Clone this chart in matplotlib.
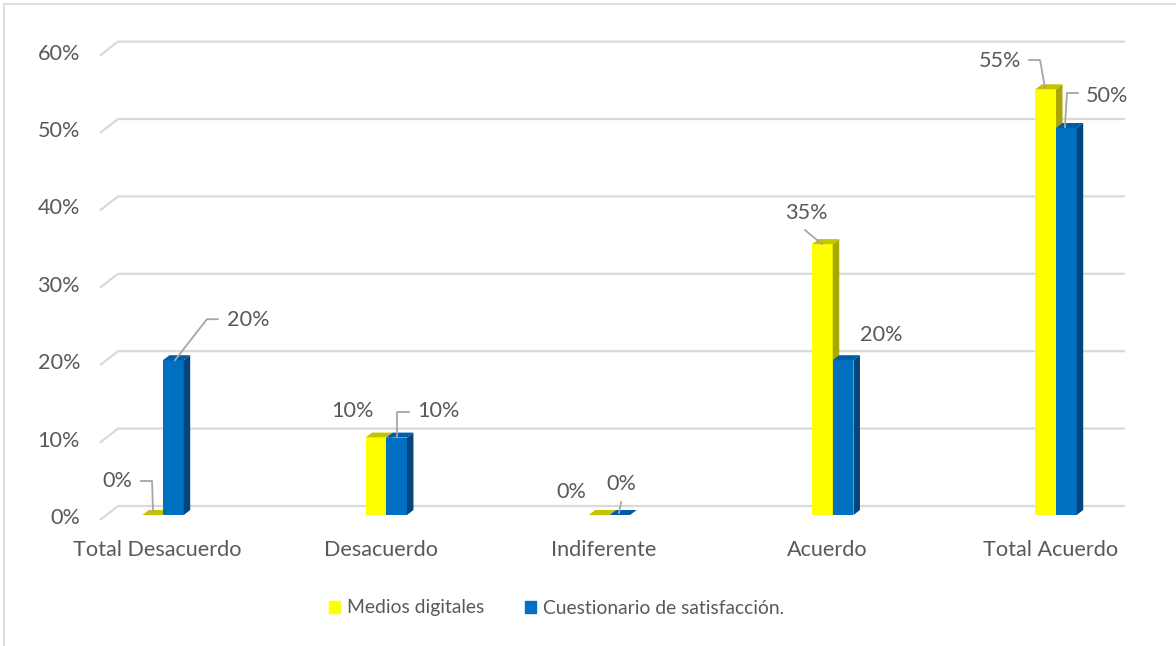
import numpy as np
import matplotlib
matplotlib.use("Agg")
import matplotlib.pyplot as plt
from matplotlib.patches import Polygon
from matplotlib.lines import Line2D

plt.rcParams['font.family'] = ['Lato', 'DejaVu Sans']

# data
categorias = ["Total Desacuerdo", "Desacuerdo", "Indiferente", "Acuerdo", "Total Acuerdo"]
medios_digitales = [0, 10, 0, 35, 55]
cuestionario = [20, 10, 0, 20, 50]
series_names = ["Medios digitales", "Cuestionario de satisfacción."]
ticks = [0, 10, 20, 30, 40, 50, 60]

TXT = "#595959"
GRID = "#d9d9d9"
LEADER = "#a6a6a6"
FS = 15.6
FS_LEG = 13.9

# front / side / top shades for the pseudo-3d columns
yel = ("#ffff00", "#a8a800", "#c4c400")
blu = ("#0070c0", "#00457c", "#005ea6")

W, H = 1176, 646
fig = plt.figure(figsize=(W / 100, H / 100), dpi=100)

# layout in pixels
x0_px, step_px = 163, 223.25     # first group seam and group spacing
zero_px, py = 515, 7.74          # baseline and pixels per percent
left_px, right_px = 100, 1125
ytop = 62
ax = fig.add_axes([left_px / W, (H - zero_px) / H, (right_px - left_px) / W, ytop * py / H])
ax.set_xlim((left_px - x0_px) / step_px, (right_px - x0_px) / step_px)
ax.set_ylim(0, ytop)
px = step_px
ax.axis("off")

def dx(p):
    return p / px

def dy(p):
    return p / py

# gridlines: slanted floor edge + back wall
xl = ax.get_xlim()[0]
xr = ax.get_xlim()[1]
for v in ticks:
    ax.plot([xl, xl + dx(18), xr], [v - dy(5), v + dy(9), v + dy(9)],
            color=GRID, lw=1.6, solid_capstyle="butt", zorder=1, clip_on=False)
    ax.text(xl - dx(20), v - dy(3), f"{v}%", ha="right", va="center",
            fontsize=FS, color=TXT)

idx = np.arange(len(categorias))
bw = 20.7 / px
depth_x, depth_y = dx(6.5), dy(5)

def draw_col(x, h, cols, z):
    front, side, top = cols
    if h > 0:
        ax.bar(x, h, width=bw, align="edge", color=front, lw=0, zorder=z)
    ax.add_patch(Polygon([(x + bw, 0), (x + bw, h), (x + bw + depth_x, h + depth_y),
                          (x + bw + depth_x, depth_y)], closed=True, color=side, lw=0, zorder=z))
    ax.add_patch(Polygon([(x, h), (x + bw, h), (x + bw + depth_x, h + depth_y),
                          (x + depth_x, h + depth_y)], closed=True, color=top, lw=0, zorder=z))

for i in idx:
    draw_col(i - bw, medios_digitales[i], yel, 2)
    draw_col(i, cuestionario[i], blu, 3)

# category labels
for i, c in zip(idx, categorias):
    ax.text(i - dx(5.5), -dy(35), c, ha="center", va="center", fontsize=FS, color=TXT)

# value labels: (text offset px, leader path offsets px) relative to the column top
lbl_yel = [((-35.6, 34), [(-11.6, 34), (-0.6, 34), (0.4, 2)]),
           ((-23.9, 26.6), None),
           ((-28.2, 23), None),
           ((-16.4, 31), [(-17.4, 14), (-0.4, 0)]),
           ((-45.6, 28.3), [(-16.6, 29.3), (-5.6, 29.3), (-0.6, 1.3)])]
lbl_blu = [((74.6, 40), [(44.6, 41), (33.6, 41), (1.6, 0)]),
           ((41.4, 26.6), [(12.4, 25.6), (0.4, 25.6), (0.4, 0.6)]),
           ((1.2, 31), [(1.2, 13), (-0.8, 2)]),
           ((37.9, 25), None),
           ((40.6, 32), [(11.6, 35), (0.6, 35), (-1.4, 1)])]

for vals, lbls, sgn in ((medios_digitales, lbl_yel, -1), (cuestionario, lbl_blu, 1)):
    for i, v in enumerate(vals):
        xc = i + sgn * bw / 2
        (tx, ty), path = lbls[i]
        if path:
            ax.plot([xc + dx(a) for a, b in path], [v + dy(b) for a, b in path],
                    color=LEADER, lw=1.3, zorder=5, clip_on=False)
        ax.text(xc + dx(tx), v + dy(ty), f"{v}%", ha="center", va="center",
                fontsize=FS, color=TXT, zorder=6)

# legend
handles = [plt.Rectangle((0, 0), 1, 1, color=yel[0]), plt.Rectangle((0, 0), 1, 1, color=blu[0])]
fig.legend(handles, series_names, loc="center", bbox_to_anchor=(556.5 / W, 38 / H),
           ncol=2, frameon=False, fontsize=FS_LEG, labelcolor=TXT,
           handlelength=0.6, handleheight=0.6, handletextpad=0.35, columnspacing=2.1)

# chart area border (top and left edges)
fig.add_artist(Line2D([4 / W, 4 / W, 1], [0, 1 - 4 / H, 1 - 4 / H], color=GRID, lw=1.2))

fig.savefig("out.png", dpi=100)
